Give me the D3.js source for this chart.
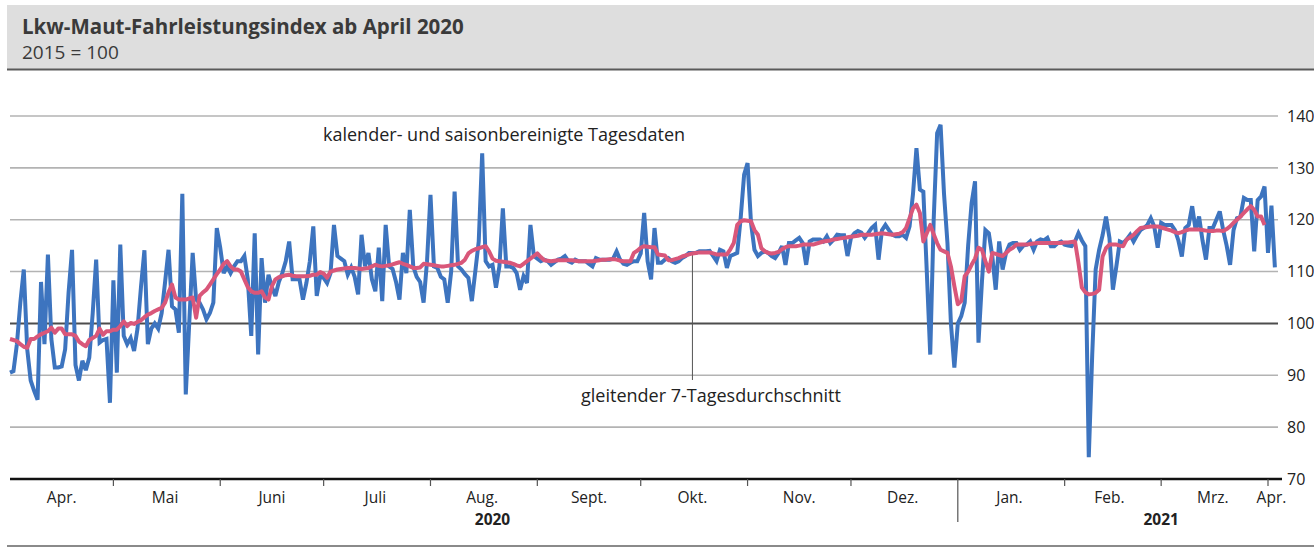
<!DOCTYPE html>
<html>
<head>
<meta charset="utf-8">
<script src="https://cdn.jsdelivr.net/npm/d3@7"></script>
<style>
  body { margin: 0; background: #fff; }
  svg { display: block; font-family: "Open Sans", "Noto Sans", sans-serif; }
</style>
</head>
<body>
<div id="chart"></div>
<script>
// daily values from 1 April 2020
const startDate = new Date(2020, 3, 1)

const daily = [
  90.5, 90.8, 96, 104, 110.4, 95, 89, 87, 85.3, 108, 96, 113.3, 97, 91.5, 91.5, 91.7, 95, 106, 114.2, 92,
  89, 92.8, 91, 93.4, 102, 112.3, 96.3, 96.8, 97, 84.7, 108.3, 90.5, 115.2, 97.6, 96, 97.2, 94.7, 99, 107, 114.1,
  96, 99, 100, 99, 102, 108, 114.2, 103.3, 102.7, 98.2, 125, 86.3, 100, 113.6, 104.6, 104, 102.7, 100.8, 102, 104,
  118.4, 114.6, 109.7, 111, 109.7, 111, 112, 112, 113, 108.5, 97.6, 117.4, 94, 112.6, 104, 109.4, 107, 105.3, 108, 109.7,
  112, 115.8, 108.5, 108.5, 108.5, 104.6, 107.8, 112, 118.7, 105.3, 109.1, 108.8, 107.8, 109.7, 119, 113, 112.5, 112, 109.4, 110.8,
  109, 105.6, 117.1, 111, 113.6, 108.5, 106.2, 114.6, 104.3, 119, 111, 110.5, 108, 104.6, 113.6, 109.7, 121.9, 111, 109, 108,
  104, 112, 124.8, 111, 110.7, 109, 108.5, 104, 110, 125.4, 111, 110.4, 109.5, 108.8, 104.3, 110, 115.8, 132.8, 112, 111,
  111.3, 106.9, 111, 122.2, 111, 111, 110.7, 109.7, 106.5, 109.1, 107.8, 119, 113, 112.5, 112, 112.3, 112, 111.3, 111.8, 112.3,
  112.5, 113, 112, 111.7, 112.3, 112, 112, 112, 111.5, 111, 112.6, 112.3, 112.3, 112.3, 112.3, 112.5, 113.9, 112.3, 111.5, 111.3,
  111.7, 112, 112, 113.5, 121.3, 112, 108.5, 118.4, 111.7, 111.7, 112.3, 112.6, 112, 111.7, 112, 112.6, 113, 113.6, 113.6, 113.6,
  113.9, 113.9, 113.9, 114, 113, 112, 114.2, 113.9, 110.7, 113, 113.3, 113.6, 120.3, 128.7, 130.9, 119.4, 114.2, 113, 113.6, 113.9,
  113.6, 113, 112.6, 113.6, 114.9, 111.3, 115.5, 115.5, 116, 116.5, 115.5, 111.3, 115.8, 116.2, 116.2, 116.2, 115.8, 116.8, 115.5, 116.2,
  117.1, 117, 117, 113, 116.5, 117.4, 117.8, 117.5, 116.5, 117.4, 118.4, 119, 112.3, 118, 119, 118, 117.1, 116.8, 116.8, 117.1,
  116.5, 118.7, 125, 133.8, 125.8, 125.4, 110, 94, 120, 136.7, 138.3, 125, 115.5, 100, 91.5, 100, 101.4, 104, 115, 123.2,
  127.4, 96.3, 108, 118, 117.4, 113, 106.5, 115.8, 110.4, 113.6, 115.2, 115.5, 115.5, 114.2, 115, 115.2, 115.8, 114.2, 115.8, 116.2,
  116, 116.5, 114.9, 114.9, 115.5, 115.8, 115.2, 115, 114.9, 115.8, 117.4, 116, 114.9, 74.2, 94, 110.4, 114.2, 117, 120.6, 116.5,
  106.5, 111, 115.8, 115.5, 116.2, 117.1, 115.8, 117, 118, 118.4, 119, 120.3, 118.7, 114.6, 119.4, 119, 119, 119, 118, 116,
  112.9, 118.4, 119, 122.6, 118, 120.6, 116, 112.3, 118.4, 118.4, 120, 121.6, 118, 115, 111.3, 118, 120.3, 120.6, 124.2, 123.8,
  123.8, 113.9, 123.8, 124.5, 126.4, 113.6, 122.7, 110.8
]

// gleitender 7-Tagesdurchschnitt
const average = [
  97, 96.8, 96.6, 96, 95.5, 95.3, 97, 97, 97.5, 97.9, 98.2, 98.5, 99.2, 98.2, 99, 99, 97.9, 97.9, 97.9, 97.6,
  96.5, 96, 95.6, 96.8, 97.2, 97.6, 99, 97.8, 98.5, 98.5, 98.8, 98.8, 99.5, 100.4, 99.5, 100.1, 99.9, 100.3, 100.6, 101.2,
  101.7, 102, 102.4, 102.7, 103, 104, 106, 107.5, 105, 104.6, 104.6, 104.6, 104.8, 105, 101.1, 105.3, 106, 106.5, 107.5, 108.5,
  109.5, 110.4, 111.5, 112, 111, 110.4, 110.4, 110, 108.5, 107, 106.2, 105.9, 105.9, 106.2, 105, 104.6, 107.2, 108.5, 108.9, 109.1,
  109.3, 109.4, 109.2, 109.1, 109.1, 109.1, 109.1, 109.2, 109.4, 109.4, 109.9, 109.6, 108.8, 110, 110.2, 110.4, 110.5, 110.6, 110.7, 110.7,
  110.7, 110.6, 110.5, 110.6, 110.7, 111, 111.3, 111.1, 111, 111.1, 111.2, 111.4, 111.6, 111.8, 111.5, 111.3, 111, 110.7, 110.7, 110.8,
  111.5, 111.4, 111.3, 111.2, 111.1, 111, 111, 111.1, 111.2, 111.3, 111.5, 111.7, 112.3, 113.5, 114, 114.3, 114.5, 114.7, 114.9, 113.9,
  112.5, 112.1, 112, 111.9, 111.8, 111.7, 111.5, 111.2, 111, 111.5, 112, 112.5, 113, 113.5, 112.8, 112.2, 112.1, 112, 112.1, 112.2,
  112.2, 112.2, 112.2, 112.2, 112.1, 112, 112, 112, 112, 112, 112.1, 112.2, 112.3, 112.3, 112.4, 112.4, 112.3, 112.1, 112, 112,
  112, 113.6, 114, 114.6, 114.9, 114.8, 114.7, 114.7, 113.3, 113.2, 113.1, 112.2, 112.2, 112.4, 112.6, 112.9, 113.1, 113.3, 113.5, 113.6,
  113.7, 113.7, 113.7, 113.7, 113.5, 113.3, 113.3, 113.3, 113.3, 114.3, 115.5, 119, 119.7, 119.9, 119.8, 119.7, 118, 117.1, 114.5, 113.9,
  113.6, 113.5, 113.6, 113.8, 114.3, 114.7, 114.9, 114.9, 114.9, 115, 115.2, 115.2, 115.2, 115.2, 115.4, 115.6, 115.8, 115.9, 116, 116.2,
  116.3, 116.4, 116.5, 116.6, 116.7, 116.8, 116.9, 117.1, 117.1, 117.1, 117.1, 117.2, 117.3, 117.4, 117.3, 117.2, 117.1, 117.2, 117.3, 117.6,
  118.4, 120.3, 122.2, 122.9, 121.3, 115.8, 117.4, 119, 117.2, 115.5, 114.2, 113.9, 113.6, 111, 107.2, 103.7, 104.3, 109.1, 110, 111.3,
  112.5, 114.6, 114.2, 112, 110, 113.6, 113.4, 113.2, 113, 113.6, 114.2, 114.6, 115.2, 115.2, 115.2, 115.2, 115.3, 115.4, 115.5, 115.5,
  115.5, 115.5, 115.5, 115.5, 115.5, 115.5, 115.6, 115.6, 115.7, 115.8, 111.7, 106.9, 106, 105.6, 105.7, 105.9, 106.5, 112.9, 114.5, 115.2,
  115.2, 115.2, 115, 114.9, 116.2, 116.6, 117.1, 117.8, 118.4, 118.5, 118.6, 118.7, 118.7, 118.7, 118.5, 118.3, 118.1, 117.9, 117.6, 117.4,
  117.6, 117.9, 118.1, 118.1, 118.1, 118.1, 118, 117.9, 117.8, 117.8, 117.9, 117.9, 117.8, 118.2, 118.7, 119.4, 120, 120.6, 121.3, 122,
  122.6, 121.9, 120.6, 120.6, 119
]

const yTicks = [70, 80, 90, 100, 110, 120, 130, 140]
const monthTicks = d3.timeMonth.range(new Date(2020, 4, 1), new Date(2021, 3, 2))
const monthLabels = [
  { label: "Apr.", date: new Date(2020, 3, 16) },
  { label: "Mai", date: new Date(2020, 4, 16) },
  { label: "Juni", date: new Date(2020, 5, 16) },
  { label: "Juli", date: new Date(2020, 6, 16) },
  { label: "Aug.", date: new Date(2020, 7, 16) },
  { label: "Sept.", date: new Date(2020, 8, 16) },
  { label: "Okt.", date: new Date(2020, 9, 16) },
  { label: "Nov.", date: new Date(2020, 10, 16) },
  { label: "Dez.", date: new Date(2020, 11, 16) },
  { label: "Jan.", date: new Date(2021, 0, 16) },
  { label: "Feb.", date: new Date(2021, 1, 14) },
  { label: "Mrz.", date: new Date(2021, 2, 16) },
  { label: "Apr.", date: new Date(2021, 3, 2) }
]
const yearLabels = [
  { label: "2020", date: new Date(2020, 7, 19) },
  { label: "2021", date: new Date(2021, 2, 1) }
]
const yearBreak = new Date(2021, 0, 1)

const width = 1314
const height = 551

const x = d3.scaleTime()
  .domain([startDate, new Date(2021, 3, 1)])
  .range([10, 1268])

const y = d3.scaleLinear()
  .domain([70, 140])
  .range([479, 116])

const dayDate = i => d3.timeDay.offset(startDate, i)

const svg = d3.select("#chart").append("svg")
  .attr("width", width)
  .attr("height", height)

// header
svg.append("rect")
  .attr("x", 7).attr("y", 5)
  .attr("width", width - 7).attr("height", 64)
  .attr("fill", "#dedede")

svg.append("line")
  .attr("x1", 7).attr("x2", width)
  .attr("y1", 69.5).attr("y2", 69.5)
  .attr("stroke", "#5a5a5a")
  .attr("stroke-width", 2)

svg.append("text")
  .attr("x", 22).attr("y", 34)
  .attr("font-size", 20.5)
  .attr("font-weight", "bold")
  .attr("fill", "#3a3a3a")
  .text("Lkw-Maut-Fahrleistungsindex ab April 2020")

svg.append("text")
  .attr("x", 22).attr("y", 59)
  .attr("font-size", 19)
  .attr("fill", "#3a3a3a")
  .text("2015 = 100")

// grid
svg.append("g")
  .selectAll("line")
  .data(yTicks.filter(d => d > 70))
  .join("line")
  .attr("x1", 10).attr("x2", 1278)
  .attr("y1", d => y(d)).attr("y2", d => y(d))
  .attr("stroke", d => d === 100 ? "#4d4d4d" : "#b3b3b3")
  .attr("stroke-width", d => d === 100 ? 2 : 1.6)

svg.append("g")
  .attr("font-size", 16)
  .attr("fill", "#222")
  .selectAll("text")
  .data(yTicks)
  .join("text")
  .attr("x", 1287)
  .attr("y", d => y(d))
  .attr("dy", "0.36em")
  .text(d => d)

// leader line for the average label
svg.append("line")
  .attr("x1", x(dayDate(198))).attr("x2", x(dayDate(198)))
  .attr("y1", y(113.3)).attr("y2", 380)
  .attr("stroke", "#555")
  .attr("stroke-width", 1)

// series
const line = d3.line()
  .x((d, i) => x(dayDate(i)))
  .y(d => y(d))

svg.append("path")
  .datum(daily)
  .attr("fill", "none")
  .attr("stroke", "#3d74bf")
  .attr("stroke-width", 4)
  .attr("stroke-linejoin", "miter")
  .attr("stroke-miterlimit", 3)
  .attr("d", line)

svg.append("path")
  .datum(average)
  .attr("fill", "none")
  .attr("stroke", "#d9577a")
  .attr("stroke-width", 4)
  .attr("stroke-linejoin", "round")
  .attr("d", line)

// x axis
svg.append("line")
  .attr("x1", 10).attr("x2", 1282)
  .attr("y1", y(70)).attr("y2", y(70))
  .attr("stroke", "#111")
  .attr("stroke-width", 2.5)

svg.append("g")
  .selectAll("line")
  .data(monthTicks)
  .join("line")
  .attr("x1", d => x(d)).attr("x2", d => x(d))
  .attr("y1", y(70)).attr("y2", d => +d === +yearBreak ? 522 : y(70) + 7)
  .attr("stroke", "#555")
  .attr("stroke-width", 1.2)

svg.append("g")
  .attr("font-size", 15.5)
  .attr("fill", "#222")
  .attr("text-anchor", "middle")
  .selectAll("text")
  .data(monthLabels)
  .join("text")
  .attr("x", d => x(d.date))
  .attr("y", 503)
  .text(d => d.label)

svg.append("g")
  .attr("font-size", 15.5)
  .attr("font-weight", "bold")
  .attr("fill", "#222")
  .attr("text-anchor", "middle")
  .selectAll("text")
  .data(yearLabels)
  .join("text")
  .attr("x", d => x(d.date))
  .attr("y", 525)
  .text(d => d.label)

// annotations
svg.append("text")
  .attr("x", 323).attr("y", 141)
  .attr("font-size", 18)
  .attr("fill", "#222")
  .text("kalender- und saisonbereinigte Tagesdaten")

svg.append("text")
  .attr("x", 581).attr("y", 402)
  .attr("font-size", 18)
  .attr("fill", "#222")
  .text("gleitender 7-Tagesdurchschnitt")

// bottom rule
svg.append("line")
  .attr("x1", 7).attr("x2", width)
  .attr("y1", 546).attr("y2", 546)
  .attr("stroke", "#8a8a8a")
  .attr("stroke-width", 2)
</script>
</body>
</html>
